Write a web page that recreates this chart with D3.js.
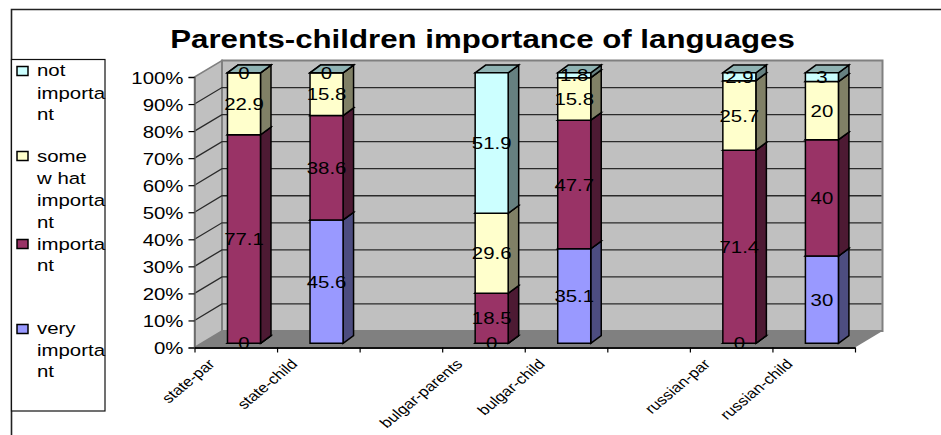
<!DOCTYPE html>
<html>
<head>
<meta charset="utf-8">
<script src="https://cdn.jsdelivr.net/npm/d3@7"></script>
<style>
html,body{margin:0;padding:0;background:#fff;}
svg{display:block;}
text{font-family:"Liberation Sans",Arial,sans-serif;fill:#000;}
</style>
</head>
<body>
<svg id="c" width="941" height="435"></svg>
<script>
const title = "Parents-children importance of languages";
const categories = ["state-par","state-child","","bulgar-parents","bulgar-child","","russian-par","russian-child"];
const seriesNames = ["very important","important","somewhat important","not important"];
const veryImportant = [0,45.6,null,0,35.1,null,0,30];
const important = [77.1,38.6,null,18.5,47.7,null,71.4,40];
const somewhat = [22.9,15.8,null,29.6,15.8,null,25.7,20];
const notImportant = [0,0,null,51.9,1.8,null,2.9,3];
const seriesValues = [veryImportant,important,somewhat,notImportant];
const faceColors = ["#9999FF","#993366","#FFFFCC","#CCFFFF"];
const sideColors = ["#4D4D80","#4D1A33","#808066","#668080"];
const topColors  = ["#7070BB","#702548","#BBBB95","#8FB3B3"];
const legendLines = [
  {series:3, lines:["not","importa","nt"], ys:[76,99,120], my:71},
  {series:2, lines:["some","w hat","importa","nt"], ys:[162,184,206,228], my:156},
  {series:1, lines:["importa","nt"], ys:[250,271], my:244},
  {series:0, lines:["very","importa","nt"], ys:[334,356,377], my:329}
];
const yTicks = [0,10,20,30,40,50,60,70,80,90,100];
const stretch = 1.2;

const svg = d3.select("#c");

// frame
svg.append("path").attr("d","M941,9.5H11.5V435").attr("fill","none").attr("stroke","#222").attr("stroke-width",1.6);

// title
svg.append("text").attr("transform",`translate(482.5,47.5) scale(1.225,1)`).attr("text-anchor","middle")
  .attr("font-size",25.5).attr("font-weight","bold").text(title);

// scales
const x0 = 194.5, x1 = 855, yFloor = 347.5, yTop = 77;
const wallDx = 27.5, wallDy = -16.5;
const barDx = 10.5, barDy = -7.7, barOffX = 8.2, barOffY = -4.2;
const xEdge = d3.scaleLinear().domain([0,categories.length]).range([x0,x1]);
const xBand = d3.scaleBand().domain(d3.range(categories.length)).range([x0,x1]).paddingInner(0.6).paddingOuter(0.3);
const y = d3.scaleLinear().domain([0,100]).range([yFloor,yTop]);

// walls
const g = svg.append("g");
const poly = (pts,fill,stroke,sw) => g.append("polygon").attr("points",pts.map(p=>p.join(",")).join(" "))
  .attr("fill",fill).attr("stroke",stroke||"none").attr("stroke-width",sw||0);
poly([[x0,y(0)],[x0+wallDx,y(0)+wallDy],[x0+wallDx,y(100)+wallDy],[x0,y(100)]],"#C0C0C0","#808080",1.5);
poly([[x0+wallDx,y(0)+wallDy],[x1+wallDx,y(0)+wallDy],[x1+wallDx,y(100)+wallDy],[x0+wallDx,y(100)+wallDy]],"#C0C0C0","#808080",2);
poly([[x0,y(0)],[x1,y(0)],[x1+wallDx,y(0)+wallDy],[x0+wallDx,y(0)+wallDy]],"#808080");

// gridlines
yTicks.filter(t=>t>0&&t<100).forEach(t=>{
  g.append("path").attr("d",`M${x0},${y(t)}L${x0+wallDx},${y(t)+wallDy}H${x1+wallDx-1}`)
   .attr("fill","none").attr("stroke","#2a2a2a").attr("stroke-width",1.3);
});

// axes
const yAxis = d3.axisLeft(y).tickValues(yTicks).tickFormat(d=>d+"%").tickSize(6);
const ya = svg.append("g").attr("transform",`translate(${x0},0)`).call(yAxis);
ya.select(".domain").attr("stroke","#666").attr("stroke-width",1.5);
ya.selectAll("line").attr("stroke","#000").attr("stroke-width",1.2);
ya.selectAll("text").attr("x",0).attr("transform",`translate(-11,0) scale(${stretch},1)`)
  .attr("font-size",17).attr("font-family",'"Liberation Sans",Arial,sans-serif').attr("dy","0.36em");

const xAxis = d3.axisBottom(xEdge).tickValues(d3.range(categories.length+1)).tickFormat("").tickSize(5).tickSizeOuter(0);
const xa = svg.append("g").attr("transform",`translate(0,${yFloor})`).call(xAxis);
xa.select(".domain").attr("stroke","#111").attr("stroke-width",2);
xa.selectAll("line").attr("stroke","#000").attr("stroke-width",1.2);

// category labels
categories.forEach((c,i)=>{
  if(!c) return;
  const cx = xEdge(i+0.5)-26, cy = 360;
  svg.append("text").attr("transform",`translate(${cx},${cy}) scale(${stretch},1) rotate(-45)`)
    .attr("text-anchor","end").attr("font-size",14).attr("dy","0.5em").text(c);
});

// bars
const barW = xBand.bandwidth();
const barX = i => xBand(i) + barOffX;
const barY = v => y(v) + barOffY;
const labels = [];
categories.forEach((c,i)=>{
  if(!c) return;
  const vals = seriesValues.map(s=>s[i]);
  const total = d3.sum(vals);
  let acc = 0;
  seriesValues.forEach((s,k)=>{
    const v = s[i];
    const p0 = acc/total*100; acc += v;
    const p1 = acc/total*100;
    const xl = barX(i), xr = xl+barW, yb = barY(p0), yt = barY(p1);
    poly([[xr,yb],[xr+barDx,yb+barDy],[xr+barDx,yt+barDy],[xr,yt]],sideColors[k],"#000",1.5);
    poly([[xl,yt],[xr,yt],[xr+barDx,yt+barDy],[xl+barDx,yt+barDy]],topColors[k],"#000",1.5);
    poly([[xl,yb],[xr,yb],[xr,yt],[xl,yt]],faceColors[k],"#000",1.5);
    labels.push({x:xl+barW/2,y:(yb+yt)/2,t:String(v)});
  });
});
svg.append("g").selectAll("text").data(labels).join("text")
  .attr("transform",d=>`translate(${d.x},${d.y}) scale(${stretch},1)`).attr("dy","0.36em").attr("text-anchor","middle")
  .attr("font-size",17).text(d=>d.t);

// legend
svg.append("rect").attr("x",11.5).attr("y",59.5).attr("width",93.5).attr("height",351.5)
  .attr("fill","#fff").attr("stroke","#111").attr("stroke-width",1.2);
legendLines.forEach(l=>{
  svg.append("rect").attr("x",17).attr("y",l.my-4.5).attr("width",11).attr("height",9)
    .attr("fill",faceColors[l.series]).attr("stroke","#000").attr("stroke-width",1.5);
  l.lines.forEach((t,i)=>{
    svg.append("text").attr("transform",`translate(37,${l.ys[i]}) scale(${stretch},1)`).attr("font-size",17).text(t);
  });
});
</script>
</body>
</html>
